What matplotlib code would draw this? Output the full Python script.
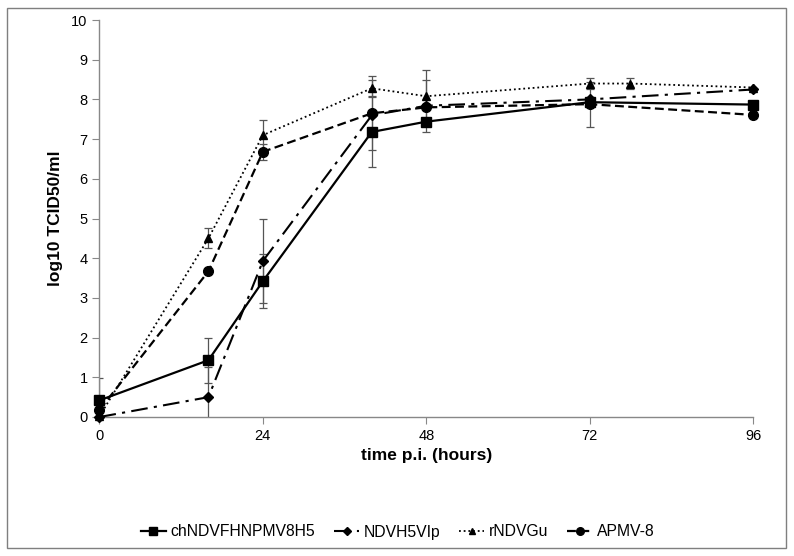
import matplotlib
matplotlib.use("Agg")
import matplotlib.pyplot as plt
import numpy as np
from matplotlib.patches import Rectangle
from matplotlib.lines import Line2D

plt.rcParams['font.family'] = ['Liberation Sans', 'DejaVu Sans']

series_names = ["chNDVFHNPMV8H5", "NDVH5VIp", "rNDVGu", "APMV-8"]

x_sq = [0, 16, 24, 40, 48, 72, 96]
y_sq = [0.42, 1.43, 3.42, 7.18, 7.44, 7.93, 7.87]
e_sq = [0.55, 0.57, 0.68, 0.87, 0.0, 0.0, 0.0]

x_di = [0, 16, 24, 40, 48, 72, 96]
y_di = [0.0, 0.5, 3.93, 7.6, 7.84, 8.0, 8.25]
e_di = [0.0, 0.75, 1.07, 0.0, 0.65, 0.0, 0.0]

x_tr = [0, 16, 24, 40, 48, 72, 78, 96]
y_tr = [0.02, 4.5, 7.1, 8.28, 8.08, 8.4, 8.4, 8.3]
e_tr = [0.0, 0.25, 0.38, 0.2, 0.66, 0.13, 0.13, 0.0]

x_ci = [0, 16, 24, 40, 48, 72, 96]
y_ci = [0.18, 3.67, 6.68, 7.65, 7.8, 7.88, 7.61]
e_ci = [0.0, 0.0, 0.2, 0.93, 0.0, 0.57, 0.0]

x_ticks = [0, 24, 48, 72, 96]
y_ticks = list(range(0, 11))

fig = plt.figure(figsize=(7.94, 5.56), dpi=100)
ax = fig.add_axes([0.1253, 0.25, 0.8231, 0.714])

fig.patches.append(Rectangle((7/794, 8/556), 779/794, 540/556, transform=fig.transFigure,
                             fill=False, edgecolor='#7f7f7f', linewidth=1.0))

specs = [
    (x_sq, y_sq, e_sq, dict(linestyle='-', marker='s', markersize=7, linewidth=1.6), 5.5),
    (x_di, y_di, e_di, dict(linestyle=(0, (8, 3, 1.5, 3)), marker='D', markersize=5, linewidth=1.5), 4),
    (x_tr, y_tr, e_tr, dict(linestyle=(0, (1, 1.6)), marker='^', markersize=6, linewidth=1.3), 5),
    (x_ci, y_ci, e_ci, dict(linestyle=(0, (4, 2)), marker='o', markersize=7, linewidth=1.6), 5.5),
]

handles = []
for (xs, ys, es, st, lms), name in zip(specs, series_names):
    xs = np.array(xs, float); ys = np.array(ys, float); es = np.array(es, float)
    m = es > 0
    ax.errorbar(xs[m], ys[m], yerr=es[m], fmt='none', ecolor='#555555', elinewidth=0.9,
                capsize=3, capthick=0.9, zorder=2)
    ax.plot(xs, ys, color='black', zorder=3, clip_on=False, **st)
    h = Line2D([], [], color='black', linestyle=st['linestyle'], marker=st['marker'],
               markersize=lms, linewidth=st['linewidth'])
    handles.append(h)

ax.set_xlim(0, 96)
ax.set_ylim(0, 10)
ax.set_xticks(x_ticks)
ax.set_yticks(y_ticks)
for s in ['top', 'right']:
    ax.spines[s].set_visible(False)
for s in ['left', 'bottom']:
    ax.spines[s].set_color('#888888')
    ax.spines[s].set_linewidth(1.0)
ax.tick_params(axis='both', colors='#888888', labelcolor='black', labelsize=10.5, length=5, direction='out')
ax.set_xlabel("time p.i. (hours)", fontsize=12.5, fontweight='bold', labelpad=4)
ax.set_ylabel("log10 TCID50/ml", fontsize=12.5, fontweight='bold', labelpad=6)

fig.legend(handles=handles, labels=series_names, loc='center', bbox_to_anchor=(0.501, 1 - 532/556),
           ncol=4, frameon=False, fontsize=11.3, handlelength=1.6, columnspacing=1.2, handletextpad=0.3)

fig.savefig("out.png", dpi=100)
